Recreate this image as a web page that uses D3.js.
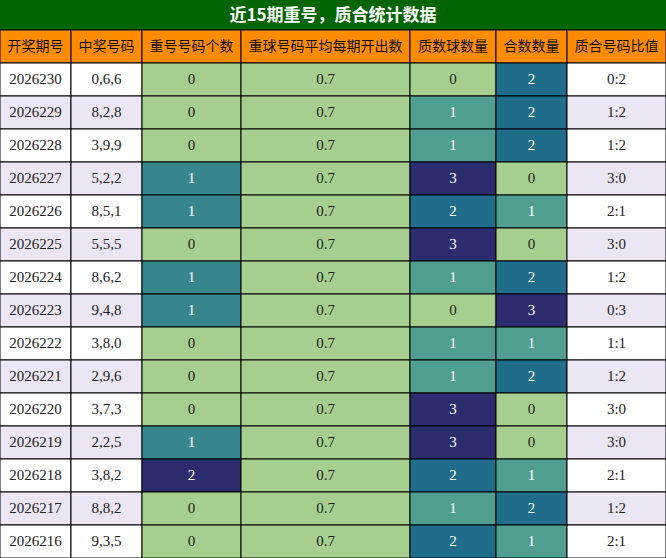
<!DOCTYPE html>
<html><head><meta charset="utf-8">
<script src="https://cdn.jsdelivr.net/npm/d3@7"></script>
<style>body{margin:0;background:#fff}</style>
</head><body><svg id="c" width="666" height="558"></svg>
<script>
const title = "近15期重号，质合统计数据";
const headers = ["开奖期号", "中奖号码", "重号号码个数", "重球号码平均每期开出数", "质数球数量", "合数数量", "质合号码比值"];
const issues = ["2026230","2026229","2026228","2026227","2026226","2026225","2026224","2026223","2026222","2026221","2026220","2026219","2026218","2026217","2026216"];
const numbers = ["0,6,6","8,2,8","3,9,9","5,2,2","8,5,1","5,5,5","8,6,2","9,4,8","3,8,0","2,9,6","3,7,3","2,2,5","3,8,2","8,8,2","9,3,5"];
const repeats = [0,0,0,1,1,0,1,1,0,0,0,1,2,0,0];
const avgRepeat = [0.7,0.7,0.7,0.7,0.7,0.7,0.7,0.7,0.7,0.7,0.7,0.7,0.7,0.7,0.7];
const primes = [0,1,1,3,2,3,1,0,1,1,3,3,2,1,2];
const composites = [2,2,2,0,1,0,2,3,1,2,0,0,1,2,1];
const ratios = ["0:2","1:2","1:2","3:0","2:1","3:0","1:2","0:3","1:1","1:2","3:0","3:0","2:1","1:2","2:1"];

const W = 666, titleH = 30, headH = 33, rowH = 33;
const colEdges = [0,71,142,241,410,496,567,666];
const svg = d3.select("#c");
const palette = ["#a6cf8f","#4f9e8f","#1f6d8a","#2c2d6e"];
function colorScale(vals) {
  const max = d3.max(vals), min = d3.min(vals);
  if (max === min) return () => palette[0];
  const s = d3.scaleLinear().domain(d3.range(4).map(i => min + (max - min) * i / 3)).range(palette);
  return v => s(v);
}
const cols = [
  {vals: issues}, {vals: numbers},
  {vals: repeats, heat: true}, {vals: avgRepeat, heat: true},
  {vals: primes, heat: true}, {vals: composites, heat: true}, {vals: ratios}
];
cols.forEach(c => { if (c.heat) c.color = colorScale(c.vals); });

const y = d3.scaleBand().domain(d3.range(issues.length)).range([titleH + headH, titleH + headH + rowH * issues.length]);

svg.append("rect").attr("width", W).attr("height", titleH).attr("fill", "#006400");
svg.append("text").attr("x", W / 2).attr("y", titleH / 2 + 1).attr("text-anchor", "middle")
  .attr("dominant-baseline", "middle").attr("fill", "#fff").attr("font-weight", "bold")
  .attr("font-size", 17).attr("font-family", "Noto Sans CJK SC").text(title);

headers.forEach((h, i) => {
  svg.append("rect").attr("x", colEdges[i]).attr("y", titleH).attr("width", colEdges[i+1] - colEdges[i])
    .attr("height", headH).attr("fill", "#ff8c00").attr("stroke", "#000");
  svg.append("text").attr("x", (colEdges[i] + colEdges[i+1]) / 2).attr("y", titleH + headH / 2 + 1)
    .attr("text-anchor", "middle").attr("dominant-baseline", "middle").attr("fill", "#111")
    .attr("font-size", 14).attr("font-family", "Noto Sans CJK SC").text(h);
});

issues.forEach((_, r) => {
  const bg = r % 2 ? "#ece6f4" : "#fff";
  cols.forEach((c, i) => {
    const v = c.vals[r];
    const fill = c.heat ? c.color(v) : bg;
    svg.append("rect").attr("x", colEdges[i]).attr("y", y(r)).attr("width", colEdges[i+1] - colEdges[i])
      .attr("height", rowH).attr("fill", fill).attr("stroke", "#000");
    const dark = c.heat && fill !== palette[0] && d3.lab(fill).l < 60;
    svg.append("text").attr("x", (colEdges[i] + colEdges[i+1]) / 2).attr("y", y(r) + rowH / 2 + 1)
      .attr("text-anchor", "middle").attr("dominant-baseline", "middle")
      .attr("fill", dark ? "#fff" : "#222").attr("font-size", 15)
      .attr("font-family", "Liberation Serif").text(v);
  });
});
</script></body></html>
